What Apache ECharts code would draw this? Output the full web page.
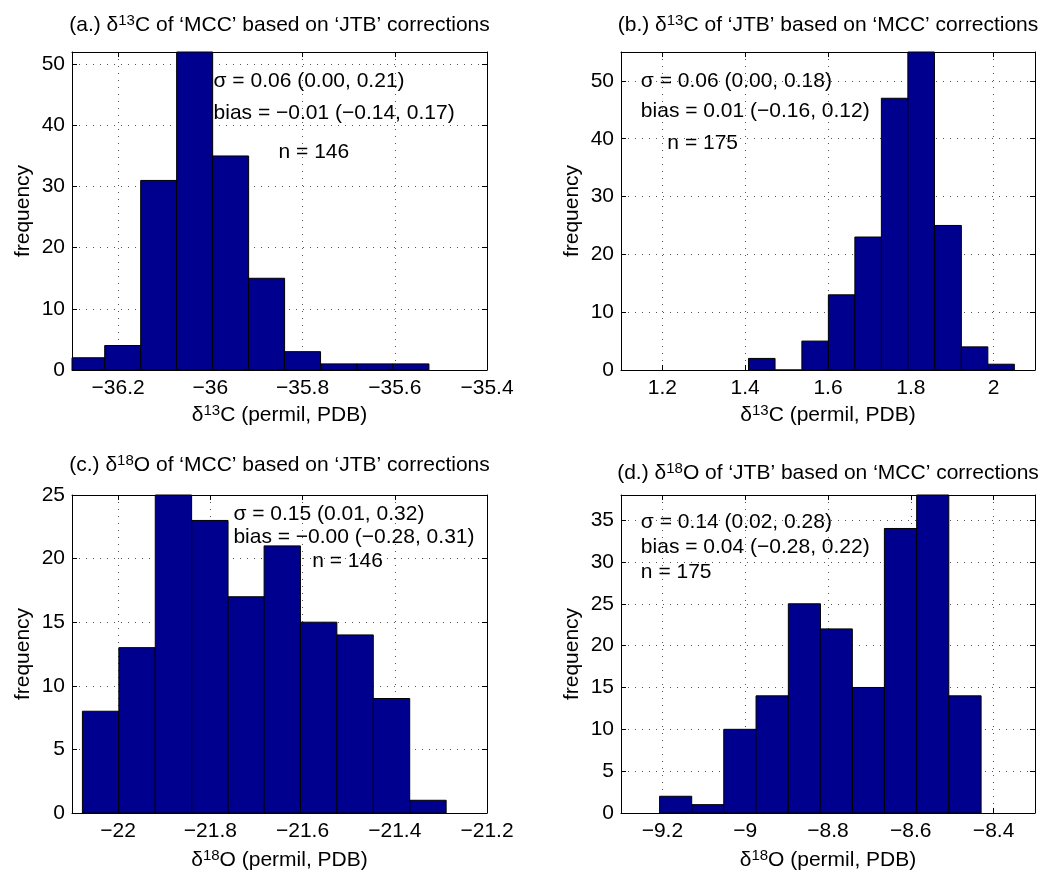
<!DOCTYPE html>
<html><head><meta charset="utf-8">
<script src="https://cdn.jsdelivr.net/npm/echarts@6/dist/echarts.min.js"></script>
<style>html,body{margin:0;padding:0;background:#fff}#c{width:1050px;height:874px}</style>
</head><body><div id="c"></div>
<script>
// ---------- DATA ----------
const titlesText = [
  "(a.) δ{sup|13}C of ‘MCC’ based on ‘JTB’ corrections",
  "(b.) δ{sup|13}C of ‘JTB’ based on ‘MCC’ corrections",
  "(c.) δ{sup|18}O of ‘MCC’ based on ‘JTB’ corrections",
  "(d.) δ{sup|18}O of ‘JTB’ based on ‘MCC’ corrections"
];
const xNames = ["δ{sup|13}C (permil, PDB)", "δ{sup|13}C (permil, PDB)", "δ{sup|18}O (permil, PDB)", "δ{sup|18}O (permil, PDB)"];
const yName = "frequency";

const centersA = [-36.268, -36.190, -36.112, -36.034, -35.956, -35.878, -35.800, -35.721, -35.643, -35.565];
const countsA  = [2, 4, 31, 52, 35, 15, 3, 1, 1, 1];
const widthA = 0.0781;

const centersB = [1.440, 1.504, 1.569, 1.633, 1.697, 1.761, 1.825, 1.890, 1.954, 2.018];
const countsB  = [2, 0, 5, 13, 23, 47, 55, 25, 4, 1];
const widthB = 0.0642;

const centersC = [-22.038, -21.959, -21.880, -21.801, -21.722, -21.644, -21.565, -21.486, -21.407, -21.328];
const countsC  = [8, 13, 25, 23, 17, 21, 15, 14, 9, 1];
const widthC = 0.0788;

const centersD = [-9.168, -9.090, -9.013, -8.935, -8.857, -8.780, -8.702, -8.625, -8.547, -8.469];
const countsD  = [2, 1, 10, 14, 25, 22, 15, 34, 38, 14];
const widthD = 0.0776;

const xRangeA = [-36.3, -35.4], xTicksA = [-36.2, -36, -35.8, -35.6, -35.4];
const xRangeB = [1.1, 2.1],     xTicksB = [1.2, 1.4, 1.6, 1.8, 2];
const xRangeC = [-22.1, -21.2], xTicksC = [-22, -21.8, -21.6, -21.4, -21.2];
const xRangeD = [-9.3, -8.3],   xTicksD = [-9.2, -9, -8.8, -8.6, -8.4];

const yMaxA = 52, yTicksA = [0, 10, 20, 30, 40, 50];
const yMaxB = 55, yTicksB = [0, 10, 20, 30, 40, 50];
const yMaxC = 25, yTicksC = [0, 5, 10, 15, 20, 25];
const yMaxD = 38, yTicksD = [0, 5, 10, 15, 20, 25, 30, 35];

const annA = [[-35.993, 47.2, "σ = 0.06 (0.00, 0.21)"], [-35.993, 42.0, "bias = −0.01 (−0.14, 0.17)"], [-35.852, 35.6, "n = 146"]];
const annB = [[1.148, 50.0, "σ = 0.06 (0.00, 0.18)"], [1.148, 44.8, "bias = 0.01 (−0.16, 0.12)"], [1.212, 39.3, "n = 175"]];
const annC = [[-21.750, 23.5, "σ = 0.15 (0.01, 0.32)"], [-21.750, 21.7, "bias = −0.00 (−0.28, 0.31)"], [-21.579, 19.8, "n = 146"]];
const annD = [[-9.252, 34.8, "σ = 0.14 (0.02, 0.28)"], [-9.252, 31.8, "bias = 0.04 (−0.28, 0.22)"], [-9.252, 28.8, "n = 175"]];

// ---------- LAYOUT / STYLE ----------
const FONT = "'Liberation Sans', Arial, Helvetica, sans-serif";
const FS = 21;
const BAR = '#00008F';
const grids = [
  {left: 72, top: 52, width: 415, height: 318},
  {left: 621, top: 52, width: 414, height: 318},
  {left: 72, top: 495, width: 415, height: 318},
  {left: 621, top: 495, width: 414, height: 318}
];
const titleY = [25, 25, 465, 473];
const xNameGap = [33, 33, 35, 35];

const panels = [
  {c: centersA, n: countsA, w: widthA, xr: xRangeA, xt: xTicksA, ym: yMaxA, yt: yTicksA, ann: annA},
  {c: centersB, n: countsB, w: widthB, xr: xRangeB, xt: xTicksB, ym: yMaxB, yt: yTicksB, ann: annB},
  {c: centersC, n: countsC, w: widthC, xr: xRangeC, xt: xTicksC, ym: yMaxC, yt: yTicksC, ann: annC},
  {c: centersD, n: countsD, w: widthD, xr: xRangeD, xt: xTicksD, ym: yMaxD, yt: yTicksD, ann: annD}
];

const supRich = {sup: {fontSize: 15, fontFamily: FONT, color: '#000', verticalAlign: 'top', lineHeight: 15}};
const fmt = v => String(v).replace('-', '\u2212');
const gridLine = {show: true, lineStyle: {color: '#555', width: 1, type: [1, 6]}};
const axLine = {show: true, onZero: false, lineStyle: {color: '#000', width: 1}};

const xAxes = [], yAxes = [], series = [], graphics = [];
panels.forEach((p, i) => {
  xAxes.push({
    type: 'value', gridIndex: i, position: 'bottom', min: p.xr[0], max: p.xr[1],
    axisLine: axLine,
    axisTick: {show: true, inside: true, length: 5, customValues: p.xt, lineStyle: {color: '#000'}},
    axisLabel: {show: true, customValues: p.xt, formatter: fmt, fontSize: FS, fontFamily: FONT, color: '#000', margin: 8},
    splitLine: gridLine,
    name: xNames[i], nameLocation: 'middle', nameGap: xNameGap[i],
    nameTextStyle: {fontSize: FS, fontFamily: FONT, color: '#000', lineHeight: 24, rich: supRich}
  });
  xAxes.push({
    type: 'value', gridIndex: i, position: 'top', min: p.xr[0], max: p.xr[1],
    axisLine: axLine,
    axisTick: {show: true, inside: true, length: 5, customValues: p.xt, lineStyle: {color: '#000'}},
    axisLabel: {show: false}, splitLine: {show: false}
  });
  yAxes.push({
    type: 'value', gridIndex: i, position: 'left', min: 0, max: p.ym,
    axisLine: axLine,
    axisTick: {show: true, inside: true, length: 5, customValues: p.yt, lineStyle: {color: '#000'}},
    axisLabel: {show: true, customValues: p.yt, formatter: fmt, fontSize: FS, fontFamily: FONT, color: '#000', margin: 7},
    splitLine: gridLine,
    name: yName, nameLocation: 'middle', nameGap: 38, nameRotate: 90,
    nameTextStyle: {fontSize: FS, fontFamily: FONT, color: '#000'}
  });
  yAxes.push({
    type: 'value', gridIndex: i, position: 'right', min: 0, max: p.ym,
    axisLine: axLine,
    axisTick: {show: true, inside: true, length: 5, customValues: p.yt, lineStyle: {color: '#000'}},
    axisLabel: {show: false}, splitLine: {show: false}
  });
  const data = p.c.map((c, k) => [c, p.w, p.n[k]]);
  series.push({
    type: 'custom', xAxisIndex: 2 * i, yAxisIndex: 2 * i, data: data, silent: true,
    encode: {x: 0, y: 2},
    renderItem: (params, api) => {
      const c = api.value(0), w = api.value(1), n = api.value(2);
      const p0 = api.coord([c - w / 2, n]);
      const p1 = api.coord([c + w / 2, 0]);
      const cs = params.coordSys;
      const r = echarts.graphic.clipRectByRect(
        {x: p0[0], y: p0[1], width: p1[0] - p0[0], height: p1[1] - p0[1]},
        {x: cs.x, y: cs.y, width: cs.width, height: cs.height});
      return r && {type: 'rect', shape: r, style: {fill: BAR, stroke: '#000', lineWidth: 1}};
    },
    z: 3
  });
  series.push({
    type: 'custom', xAxisIndex: 2 * i, yAxisIndex: 2 * i, silent: true,
    data: p.ann.map(a => [a[0], a[1]]),
    encode: {x: 0, y: 1},
    renderItem: (params, api) => {
      const pt = api.coord([api.value(0), api.value(1)]);
      return {type: 'text', x: pt[0], y: pt[1], style: {text: p.ann[params.dataIndex][2], fontSize: FS, fontFamily: FONT, fill: '#000', align: 'left', verticalAlign: 'middle'}};
    },
    z: 5
  });
  const g = grids[i];
  graphics.push({
    type: 'text', x: g.left + g.width / 2, y: titleY[i], z: 10,
    style: {text: titlesText[i], fontSize: FS, fontFamily: FONT, fill: '#000', align: 'center', verticalAlign: 'middle', lineHeight: 24, rich: {sup: {fontSize: 15, fontFamily: FONT, fill: '#000', verticalAlign: 'top', lineHeight: 15}}}
  });
});

const chart = echarts.init(document.getElementById('c'), null, {renderer: 'canvas'});
chart.setOption({
  animation: false,
  backgroundColor: '#fff',
  grid: grids.map(g => Object.assign({containLabel: false}, g)),
  xAxis: xAxes, yAxis: yAxes, series: series, graphic: graphics
});
</script></body></html>
